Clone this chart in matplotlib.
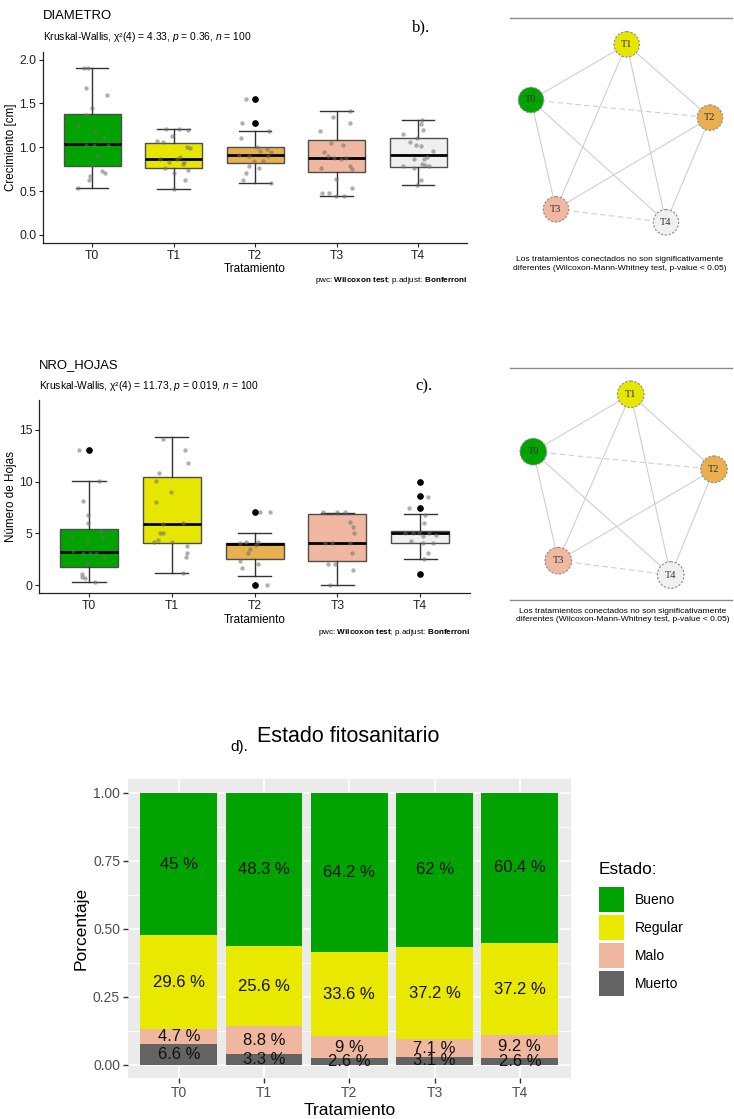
import matplotlib
matplotlib.use("Agg")
import matplotlib.pyplot as plt
from matplotlib.patches import Circle, Rectangle
from matplotlib.ticker import FixedLocator

plt.rcParams['font.family'] = ['Liberation Sans', 'DejaVu Sans']
plt.rcParams['mathtext.fontset'] = 'custom'
plt.rcParams['mathtext.rm'] = 'Liberation Sans'
plt.rcParams['mathtext.it'] = 'Liberation Sans:italic'
plt.rcParams['mathtext.bf'] = 'Liberation Sans:bold'

# ---------------------------------------------------------------- data
tratamientos = ["T0", "T1", "T2", "T3", "T4"]
colores_trat = ["#00A300", "#E6E600", "#E8B04E", "#F0B8A0", "#F0F0F0"]

# DIAMETRO: box statistics per treatment
diam_whislo = [0.53, 0.52, 0.59, 0.44, 0.57]
diam_q1 = [0.79, 0.76, 0.82, 0.72, 0.77]
diam_med = [1.04, 0.86, 0.91, 0.875, 0.91]
diam_q3 = [1.38, 1.05, 1.00, 1.08, 1.11]
diam_whishi = [1.90, 1.21, 1.19, 1.41, 1.31]
diam_outliers = [[], [], [1.555, 1.28], [], []]

# DIAMETRO: individual observations (jitter offset, value)
diam_puntos = [
    [(-0.10, 1.90), (-0.05, 1.90), (-0.07, 1.67), (0.18, 1.60), (0.00, 1.45),
     (-0.08, 1.37), (-0.18, 1.25), (0.04, 1.19), (0.15, 1.12), (-0.07, 1.03),
     (0.02, 1.03), (0.19, 1.02), (0.06, 0.90), (0.00, 0.80), (0.16, 0.71),
     (0.12, 0.73), (-0.03, 0.67), (-0.04, 0.62), (-0.18, 0.53)],
    [(-0.09, 1.21), (0.07, 1.21), (0.18, 1.20), (-0.02, 1.13), (-0.13, 1.06),
     (-0.20, 1.07), (0.16, 1.00), (0.20, 0.99), (-0.17, 0.87), (-0.06, 0.83),
     (0.13, 0.83), (0.11, 0.81), (-0.11, 0.76), (0.00, 0.70), (0.18, 0.74),
     (0.14, 0.62), (0.00, 0.52), (0.04, 0.86), (0.08, 0.89)],
    [(-0.11, 1.555), (-0.16, 1.28), (-0.17, 1.11), (0.17, 1.19), (0.02, 1.00),
     (0.14, 0.98), (0.20, 0.95), (0.06, 0.96), (-0.20, 0.91), (-0.07, 0.90),
     (0.16, 0.90), (-0.02, 0.84), (0.10, 0.84), (-0.07, 0.78), (0.05, 0.76),
     (-0.11, 0.70), (-0.15, 0.63), (0.19, 0.59)],
    [(0.16, 1.41), (-0.05, 1.35), (-0.20, 1.19), (0.16, 1.28), (-0.07, 1.05),
     (0.08, 1.02), (-0.15, 0.94), (-0.11, 0.90), (-0.03, 0.875), (0.05, 0.86),
     (0.16, 0.79), (0.19, 0.75), (-0.19, 0.76), (-0.01, 0.64), (0.19, 0.54),
     (-0.18, 0.48), (-0.09, 0.48), (-0.01, 0.44), (0.09, 0.44), (0.11, 0.875)],
    [(0.05, 1.31), (0.03, 1.26), (0.06, 1.20), (-0.19, 1.15), (-0.01, 1.11),
     (-0.10, 1.06), (-0.03, 1.02), (0.03, 1.01), (0.18, 0.96), (0.11, 0.89),
     (-0.05, 0.86), (0.07, 0.86), (0.05, 0.81), (0.09, 0.80), (0.13, 0.78),
     (-0.19, 0.78), (-0.05, 0.76), (0.03, 0.62), (-0.01, 0.57)],
]

# NRO_HOJAS: box statistics per treatment
hojas_whislo = [0.26, 1.13, 0.90, 0.00, 2.55]
hojas_q1 = [1.77, 4.03, 2.48, 2.29, 4.03]
hojas_med = [3.16, 5.87, 3.94, 4.10, 5.03]
hojas_q3 = [5.39, 10.48, 4.10, 6.84, 5.26]
hojas_whishi = [10.03, 14.35, 5.06, 7.00, 6.87]
hojas_outliers = [[13.06], [], [7.03, 0.0], [], [10.0, 8.58, 7.45, 1.03]]

# NRO_HOJAS: individual observations (jitter offset, value)
hojas_puntos = [
    [(-0.12, 13.06), (0.12, 10.03), (-0.07, 8.13), (-0.01, 6.77), (-0.01, 6.03),
     (0.15, 5.26), (-0.20, 4.74), (0.17, 4.68), (-0.02, 4.03), (-0.19, 3.29),
     (-0.07, 3.06), (0.01, 3.06), (0.09, 3.13), (0.19, 2.71), (-0.03, 2.10),
     (-0.08, 1.06), (-0.09, 0.74), (-0.05, 0.65), (0.07, 0.26)],
    [(-0.11, 14.10), (0.16, 13.06), (0.19, 11.77), (-0.16, 10.80), (-0.19, 10.06),
     (-0.01, 9.03), (-0.19, 8.03), (0.14, 6.03), (-0.11, 5.90), (-0.14, 5.06),
     (-0.11, 5.06), (-0.17, 4.35), (-0.22, 4.13), (0.00, 4.13), (0.18, 3.81),
     (0.18, 3.13), (0.17, 2.74), (0.14, 1.13)],
    [(0.18, 7.03), (0.07, 7.03), (0.15, 0.00), (0.04, 4.13), (-0.10, 4.13),
     (-0.18, 4.03), (0.02, 3.87), (-0.06, 3.48), (-0.08, 3.06), (-0.18, 2.35),
     (0.04, 2.03), (-0.15, 1.68)],
    [(0.09, 7.10), (0.00, 7.03), (-0.17, 7.03), (0.15, 6.06), (0.19, 5.58),
     (0.20, 5.06), (-0.15, 4.03), (-0.07, 4.03), (0.15, 4.03), (0.18, 3.06),
     (-0.11, 2.00), (-0.03, 2.00), (0.19, 1.45), (-0.09, 0.00)],
    [(0.09, 8.55), (-0.14, 7.45), (0.06, 6.80), (0.05, 6.03), (-0.19, 5.06),
     (0.19, 4.84), (0.03, 4.74), (0.11, 5.00), (0.15, 4.10), (-0.11, 4.26),
     (0.03, 4.10), (0.09, 3.06), (0.04, 2.55), (-0.09, 5.00), (-0.01, 5.00)],
]

# Estado fitosanitario (% per category, as labelled)
estados = ["Bueno", "Regular", "Malo", "Muerto"]
colores_estado = ["#00A300", "#E8E800", "#EFB89E", "#636363"]
pct_bueno = [45, 48.3, 64.2, 62, 60.4]
pct_regular = [29.6, 25.6, 33.6, 37.2, 37.2]
pct_malo = [4.7, 8.8, 9, 7.1, 9.2]
pct_muerto = [6.6, 3.3, 2.6, 3.1, 2.6]

# Pairwise comparison graph: edges (solid / dashed)
aristas_solidas = [("T0", "T1"), ("T1", "T2"), ("T1", "T3"), ("T1", "T4"),
                   ("T0", "T3"), ("T0", "T4"), ("T2", "T3"), ("T2", "T4")]
aristas_discontinuas = [("T0", "T2"), ("T3", "T4")]

leyenda_red = ("Los tratamientos conectados no son significativamente\n"
               "diferentes (Wilcoxon-Mann-Whitney test, p-value < 0.05)")

# ---------------------------------------------------------------- figure
W, H = 734, 1119
fig = plt.figure(figsize=(W / 100, H / 100), dpi=100)


def px_axes(left, top, right, bottom, **kw):
    return fig.add_axes([left / W, 1 - bottom / H, (right - left) / W,
                         (bottom - top) / H], **kw)


def ftext(x, y, s, **kw):
    kw.setdefault("va", "center")
    fig.text(x / W, 1 - y / H, s, **kw)


def boxplot_panel(ax, whislo, q1, med, q3, whishi, outl, puntos, ylim, yticks,
                  ylabel):
    stats = [dict(whislo=whislo[i], q1=q1[i], med=med[i], q3=q3[i],
                  whishi=whishi[i], fliers=outl[i]) for i in range(5)]
    bp = ax.bxp(stats, positions=range(5), widths=0.7, capwidths=0.4,
                patch_artist=True, manage_ticks=False,
                boxprops=dict(edgecolor="#4d4d4d", linewidth=1.0),
                medianprops=dict(color="black", linewidth=2.0),
                whiskerprops=dict(color="#333333", linewidth=1.0),
                capprops=dict(color="#333333", linewidth=1.0),
                flierprops=dict(marker="o", markerfacecolor="black",
                                markeredgecolor="black", markersize=3.8))
    for patch, c in zip(bp["boxes"], colores_trat):
        patch.set_facecolor(c)
    for fl in bp["fliers"]:
        fl.set_zorder(5)
    for i, pts in enumerate(puntos):
        ax.scatter([i + dx for dx, _ in pts], [v for _, v in pts], s=10,
                   color="#6e6e6e", alpha=0.55, linewidths=0, zorder=4)
    ax.set_xlim(-0.6, 4.6)
    ax.set_ylim(*ylim)
    ax.set_xticks(range(5))
    ax.set_xticklabels(tratamientos)
    ax.set_yticks(yticks)
    ax.set_yticklabels([("%.1f" % t) if isinstance(t, float) else str(t)
                        for t in yticks])
    for s in ("top", "right"):
        ax.spines[s].set_visible(False)
    for s in ("left", "bottom"):
        ax.spines[s].set_linewidth(0.9)
        ax.spines[s].set_color("#222222")
    ax.tick_params(length=3, width=0.8, labelsize=8.8, colors="#222222",
                   pad=2)
    ax.set_xlabel("Tratamiento", fontsize=8.4, labelpad=1)
    ax.set_ylabel(ylabel, fontsize=8.4, labelpad=1.5)


# DIAMETRO panel
ax1 = px_axes(43.3, 51.7, 467, 242.7)
boxplot_panel(ax1, diam_whislo, diam_q1, diam_med, diam_q3, diam_whishi,
              diam_outliers, diam_puntos, (-0.09, 2.09),
              [0.0, 0.5, 1.0, 1.5, 2.0], "Crecimiento [cm]")
ftext(43, 16, "DIAMETRO", fontsize=9.4)
ftext(43, 37, r"Kruskal-Wallis, χ²(4) = 4.33, $\it{p}$ = 0.36, "
      r"$\it{n}$ = 100", fontsize=7.4)
ftext(412, 27, "b).", fontsize=12, family="Liberation Serif")
ftext(467, 281, r"pwc: $\bf{Wilcoxon\ test}$; p.adjust: $\bf{Bonferroni}$",
      fontsize=5.9, ha="right")

# NRO_HOJAS panel
ax2 = px_axes(39.3, 400, 470, 593.3)
boxplot_panel(ax2, hojas_whislo, hojas_q1, hojas_med, hojas_q3, hojas_whishi,
              hojas_outliers, hojas_puntos, (-0.8, 17.9), [0, 5, 10, 15],
              "Número de Hojas")
ftext(39.3, 365, "NRO_HOJAS", fontsize=9.4)
ftext(39.3, 386, r"Kruskal-Wallis, χ²(4) = 11.73, $\it{p}$ = 0.019, "
      r"$\it{n}$ = 100", fontsize=7.4)
ftext(415, 386, "c).", fontsize=12, family="Liberation Serif")
ftext(470, 632, r"pwc: $\bf{Wilcoxon\ test}$; p.adjust: $\bf{Bonferroni}$",
      fontsize=5.9, ha="right")

# Estado fitosanitario: stacked proportions
ax3 = px_axes(127.7, 779.3, 571, 1078.3)
ax3.set_facecolor("#EBEBEB")
capas = [pct_muerto, pct_malo, pct_regular, pct_bueno]
totales = [sum(c[i] for c in capas) for i in range(5)]
base = [0.0] * 5
for capa, color in zip(capas, colores_estado[::-1]):
    frac = [capa[i] / totales[i] for i in range(5)]
    ax3.bar(range(5), frac, bottom=base, width=0.9, color=color, zorder=3)
    for i in range(5):
        ax3.text(i, base[i] + frac[i] / 2, "%g %%" % capa[i], ha="center",
                 va="center", fontsize=12, color="#111111", zorder=4)
    base = [base[i] + frac[i] for i in range(5)]
ax3.set_xlim(-0.6, 4.6)
ax3.set_ylim(-0.05, 1.05)
ax3.set_xticks(range(5))
ax3.set_xticklabels(tratamientos)
ax3.set_yticks([0, 0.25, 0.5, 0.75, 1.0])
ax3.set_yticklabels(["0.00", "0.25", "0.50", "0.75", "1.00"])
ax3.yaxis.set_minor_locator(FixedLocator([0.125, 0.375, 0.625, 0.875]))
ax3.grid(True, which="major", color="white", linewidth=1.2, zorder=0)
ax3.grid(True, which="minor", axis="y", color="white", linewidth=0.6,
         zorder=0)
ax3.set_axisbelow(True)
for s in ax3.spines.values():
    s.set_visible(False)
ax3.tick_params(which="major", length=3.5, width=1.0, color="#333333",
                labelcolor="#4D4D4D", labelsize=10, pad=2)
ax3.tick_params(which="minor", length=0)
ax3.set_xlabel("Tratamiento", fontsize=12.5, labelpad=2)
ax3.set_ylabel("Porcentaje", fontsize=12.5, labelpad=3)
ftext(257, 737, "Estado fitosanitario", fontsize=15.5)
ftext(230, 747, "d).", fontsize=11)

# Overlay in pixel coordinates: comparison graphs and legend
ov = fig.add_axes([0, 0, 1, 1], zorder=10)
ov.set_xlim(0, W)
ov.set_ylim(H, 0)
ov.set_aspect("equal")
ov.axis("off")
ov.patch.set_alpha(0)


def red(nodos, radio, y_linea, y_linea2, y_texto, x_texto):
    ov.plot([510, 732], [y_linea, y_linea], color="#8c8c8c", lw=1.0)
    if y_linea2 is not None:
        ov.plot([510, 732], [y_linea2, y_linea2], color="#8c8c8c", lw=1.0)
    for a, b in aristas_solidas:
        ov.plot([nodos[a][0], nodos[b][0]], [nodos[a][1], nodos[b][1]],
                color="#cfcfcf", lw=0.8, zorder=1)
    for a, b in aristas_discontinuas:
        ov.plot([nodos[a][0], nodos[b][0]], [nodos[a][1], nodos[b][1]],
                color="#cfcfcf", lw=0.8, ls=(0, (5, 3)), zorder=1)
    for t, c in zip(tratamientos, colores_trat):
        x, y = nodos[t]
        ov.add_patch(Circle((x, y), radio, facecolor=c, edgecolor="#8a8a8a",
                            lw=0.8, ls=(0, (2, 1.5)), zorder=2))
        ov.text(x, y, t, ha="center", va="center", fontsize=7.5,
                family="Liberation Serif", color="#333333", zorder=3)
    ov.text(x_texto, y_texto, leyenda_red, ha="center", va="center",
            fontsize=6.1, linespacing=1.3)


red({"T0": (531, 100), "T1": (626.7, 44.3), "T2": (710, 117.7),
     "T3": (556, 209.3), "T4": (666, 222.3)}, 12.7, 18.3, None, 264, 620)
red({"T0": (533.3, 451.7), "T1": (630.7, 394.3), "T2": (714, 469.3),
     "T3": (558.3, 560.7), "T4": (670.7, 575)}, 13.3, 367.7, 600, 615.5,
    622.7)

# Legend for the stacked bars
ov.text(598.3, 869.3, "Estado:", ha="left", va="center", fontsize=12.4)
for k, (nombre, color) in enumerate(zip(estados, colores_estado)):
    y0 = 887.3 + k * 27.8
    ov.add_patch(Rectangle((599.3, y0), 24.7, 25, facecolor=color,
                           edgecolor="none"))
    ov.text(635, y0 + 13, nombre, ha="left", va="center", fontsize=10)

fig.savefig("out.png", dpi=100)
